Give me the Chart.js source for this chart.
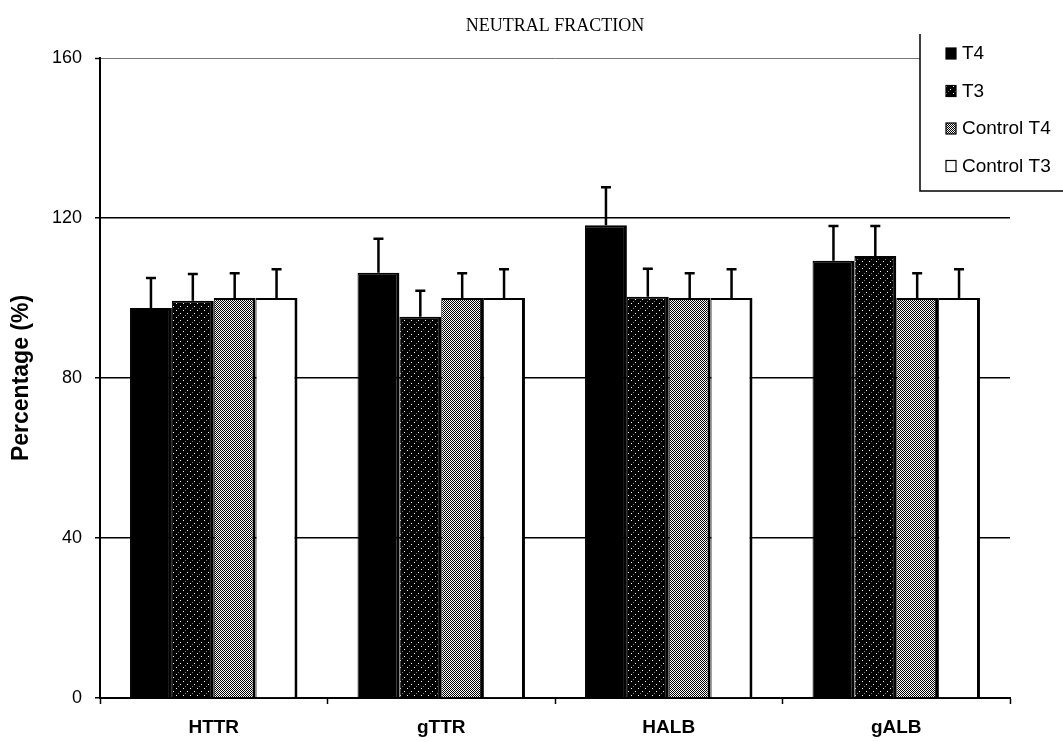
<!DOCTYPE html>
<html>
<head>
<meta charset="utf-8">
<title>Neutral fraction</title>
<script src="https://cdn.jsdelivr.net/npm/chart.js@4.4.1/dist/chart.umd.min.js"></script>
<style>
    body { margin: 0; background: #fff; }
    #wrap { width: 1063px; height: 742px; }
</style>
</head>
<body>
<div id="wrap"><canvas id="myChart"></canvas></div>
<script>
// Values (percentage of control), read per protein
const categories = ["HTTR", "gTTR", "HALB", "gALB"];
const seriesNames = ["T4", "T3", "Control T4", "Control T3"];
const t4Values = [97.5, 106.3, 118.2, 109.3];
const t4Errors = [7.5, 8.5, 9.5, 8.7];
const t3Values = [99.3, 95.3, 100.3, 110.5];
const t3Errors = [6.7, 6.5, 7.0, 7.5];
const controlT4Values = [100, 100, 100, 100];
const controlT4Errors = [6.2, 6.2, 6.2, 6.2];
const controlT3Values = [100, 100, 100, 100];
const controlT3Errors = [7.2, 7.2, 7.2, 7.2];
const yTicks = [0, 40, 80, 120, 160];

/**
 * builds a small repeating tile used as a bar fill
 * @param {*} size - tile size in px
 * @param {*} base - background colour
 * @param {*} dots - list of [x, y, colour]
 * @returns CanvasPattern
 */
function makePattern(size, base, dots) {
    let tile = document.createElement("canvas");
    tile.width = size;
    tile.height = size;
    let tctx = tile.getContext("2d");
    tctx.fillStyle = base;
    tctx.fillRect(0, 0, size, size);
    for (let d of dots) {
        tctx.fillStyle = d[2];
        tctx.fillRect(d[0], d[1], 1, 1);
    }
    return tctx.createPattern(tile, "repeat");
}

// dark speckled fill for T3
let t3Fill = makePattern(7, "#000", [[1, 2, "#fff"], [5, 5, "#fff"], [3, 0, "#777"]]);

// dithered grey for Control T4
let checker = [];
for (let y = 0; y < 6; y++) {
    for (let x = 0; x < 6; x++) {
        if ((x + y) % 2 == 0) checker.push([x, y, "#000"]);
    }
}
checker.push([1, 4, "#fff"]);
checker.push([4, 1, "#fff"]);
let controlT4Fill = makePattern(6, "#fff", checker);

const fills = ["#000", t3Fill, controlT4Fill, "#fff"];
const seriesValues = [t4Values, t3Values, controlT4Values, controlT3Values];
const seriesErrors = [t4Errors, t3Errors, controlT4Errors, controlT3Errors];

// upper error bars drawn on top of each bar
const errorBars = {
    id: "errorBars",
    afterDatasetsDraw(chart) {
        let ctx = chart.ctx;
        let yScale = chart.scales.y;
        ctx.save();
        ctx.strokeStyle = "#000";
        ctx.lineWidth = 2.5;
        chart.data.datasets.forEach((ds, i) => {
            let meta = chart.getDatasetMeta(i);
            meta.data.forEach((bar, j) => {
                let top = yScale.getPixelForValue(ds.data[j] + ds.errors[j]);
                ctx.beginPath();
                ctx.moveTo(bar.x, bar.y);
                ctx.lineTo(bar.x, top);
                ctx.moveTo(bar.x - 5, top);
                ctx.lineTo(bar.x + 5, top);
                ctx.stroke();
            });
        });
        ctx.restore();
    }
};

// boxed legend in the top right corner, overlapping the plot
const cornerLegend = {
    id: "cornerLegend",
    afterDraw(chart) {
        let ctx = chart.ctx;
        let left = 920, top = 34, bottom = 191;
        ctx.save();
        ctx.fillStyle = "#fff";
        ctx.fillRect(left, top, chart.width - left, bottom - top);
        ctx.strokeStyle = "#000";
        ctx.lineWidth = 1.5;
        ctx.beginPath();
        ctx.moveTo(left, top);
        ctx.lineTo(left, bottom);
        ctx.lineTo(chart.width, bottom);
        ctx.stroke();
        ctx.font = '19px "Liberation Sans", Arial, sans-serif';
        ctx.textBaseline = "middle";
        chart.data.datasets.forEach((ds, i) => {
            let cy = 53 + i * 37.5;
            ctx.fillStyle = ds.backgroundColor;
            ctx.fillRect(946, cy - 5, 10, 11);
            ctx.lineWidth = 1.2;
            ctx.strokeRect(946, cy - 5, 10, 11);
            ctx.fillStyle = "#000";
            ctx.fillText(ds.label, 962, cy + 1);
        });
        ctx.restore();
    }
};

let datasets = [];
for (let i = 0; i < seriesNames.length; i++) {
    datasets.push({
        label: seriesNames[i],
        data: seriesValues[i],
        errors: seriesErrors[i],
        backgroundColor: fills[i],
        borderColor: "#000",
        borderWidth: { top: 2, left: 1, right: 3, bottom: 0 },
        borderSkipped: false,
        categoryPercentage: 0.736,
        barPercentage: 1.0
    });
}

let config = {
    type: "bar",
    data: { labels: categories, datasets: datasets },
    options: {
        responsive: true,
        maintainAspectRatio: false,
        animation: false,
        layout: { padding: { top: 0, right: 53, bottom: 0, left: 0 } },
        plugins: {
            legend: { display: false },
            tooltip: { enabled: false },
            title: {
                display: true,
                fullSize: false,
                text: "NEUTRAL FRACTION",
                color: "#000",
                font: { family: '"Liberation Serif", "Times New Roman", serif', size: 18, weight: "normal", lineHeight: 1.2 },
                padding: { top: 15, bottom: 21.4 }
            }
        },
        scales: {
            x: {
                afterFit: scale => { scale.height = 44; },
                grid: {
                    offset: true,
                    drawOnChartArea: false,
                    tickLength: 6,
                    tickColor: "#000",
                    tickWidth: 1.5
                },
                border: { color: "#000", width: 2 },
                ticks: {
                    color: "#000",
                    padding: 12,
                    font: { family: '"Liberation Sans", Arial, sans-serif', size: 19, weight: "bold" }
                }
            },
            y: {
                min: yTicks[0],
                max: yTicks[yTicks.length - 1],
                afterFit: scale => { scale.width = 100; },
                afterBuildTicks: scale => { scale.ticks = yTicks.map(v => ({ value: v })); },
                grid: {
                    color: c => (c.tick && c.tick.value == 160) ? "#777" : "#000",
                    lineWidth: c => (c.tick && c.tick.value == 160) ? 1 : 1.5,
                    tickLength: 5,
                    tickColor: "#000",
                    tickWidth: 1.5
                },
                border: { color: "#000", width: 2 },
                ticks: {
                    color: "#000",
                    padding: 13,
                    font: { family: '"Liberation Sans", Arial, sans-serif', size: 18 }
                },
                title: {
                    display: true,
                    text: "Percentage (%)",
                    color: "#000",
                    padding: { top: 8, bottom: 0 },
                    font: { family: '"Liberation Sans", Arial, sans-serif', size: 23, weight: "bold", lineHeight: 1.2 }
                }
            }
        }
    },
    plugins: [errorBars, cornerLegend]
};

let myChart = new Chart(document.getElementById("myChart"), config);
</script>
</body>
</html>
